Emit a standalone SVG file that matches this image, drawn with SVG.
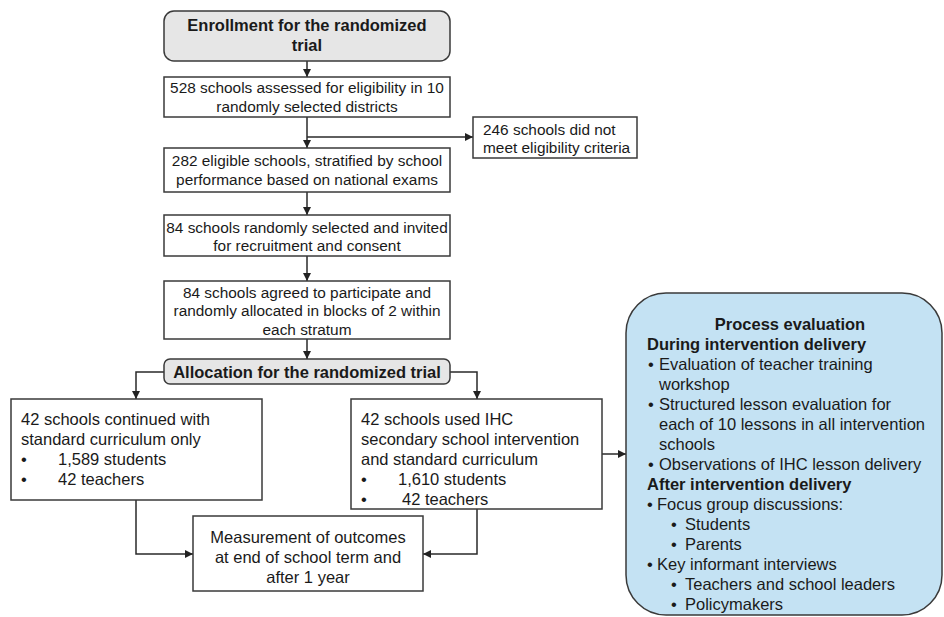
<svg xmlns="http://www.w3.org/2000/svg" width="944" height="617" viewBox="0 0 944 617">
<defs>
<marker id="ah" viewBox="0 0 10 10" refX="10" refY="5" markerWidth="8" markerHeight="8" markerUnits="userSpaceOnUse" orient="auto">
<path d="M0,0 L10,5 L0,10 z" fill="#222"/>
</marker>
</defs>
<style>
.box{fill:#fff;stroke:#3a3a3a;stroke-width:1.5}
.hdr{fill:#e6e6e6;stroke:#3a3a3a;stroke-width:1.5}
.pe{fill:#c4e2f3;stroke:#3a3a3a;stroke-width:1.5}
.t{font-family:"Liberation Sans",Arial,sans-serif;font-size:15.4px;fill:#1a1a1a}
.m{font-family:"Liberation Sans",Arial,sans-serif;font-size:16.5px;fill:#1a1a1a}
.b{font-family:"Liberation Sans",Arial,sans-serif;font-size:16.5px;font-weight:bold;fill:#1a1a1a}
.c{text-anchor:middle}
.ln{fill:none;stroke:#2a2a2a;stroke-width:1.5}
</style>
<rect width="944" height="617" fill="#fff"/>

<g id="connectors">
<path class="ln" d="M307,61 V77" marker-end="url(#ah)"/>
<path class="ln" d="M307,117 V148" marker-end="url(#ah)"/>
<path class="ln" d="M307,137 H473" marker-end="url(#ah)"/>
<path class="ln" d="M307,192 V215" marker-end="url(#ah)"/>
<path class="ln" d="M307,256 V281" marker-end="url(#ah)"/>
<path class="ln" d="M307,339 V359" marker-end="url(#ah)"/>
<path class="ln" d="M164,372 H136 V399" marker-end="url(#ah)"/>
<path class="ln" d="M450,372 H477 V399" marker-end="url(#ah)"/>
<path class="ln" d="M136,500 V554 H193" marker-end="url(#ah)"/>
<path class="ln" d="M477,509 V554 H423" marker-end="url(#ah)"/>
<path class="ln" d="M602,454 H626" marker-end="url(#ah)"/>
</g>

<g id="enrollment">
<rect class="hdr" x="164" y="11" width="286" height="50" rx="10"/>
<text class="b c" x="307" y="31">Enrollment for the randomized</text>
<text class="b c" x="307" y="51">trial</text>
</g>

<g id="assessed">
<rect class="box" x="164" y="77" width="286" height="40"/>
<text class="t c" x="307" y="93">528 schools assessed for eligibility in 10</text>
<text class="t c" x="307" y="111.5">randomly selected districts</text>
</g>

<g id="excluded">
<rect class="box" x="473" y="117" width="164" height="41"/>
<text class="t" x="483" y="134.5">246 schools did not</text>
<text class="t" x="483" y="152.5">meet eligibility criteria</text>
</g>

<g id="eligible">
<rect class="box" x="164" y="148" width="286" height="44"/>
<text class="t c" x="307" y="166">282 eligible schools, stratified by school</text>
<text class="t c" x="307" y="184.5">performance based on national exams</text>
</g>

<g id="selected">
<rect class="box" x="164" y="215" width="286" height="41"/>
<text class="t c" x="307" y="232.5">84 schools randomly selected and invited</text>
<text class="t c" x="307" y="251">for recruitment and consent</text>
</g>

<g id="agreed">
<rect class="box" x="164" y="281" width="286" height="58"/>
<text class="t c" x="307" y="297.5">84 schools agreed to participate and</text>
<text class="t c" x="307" y="316">randomly allocated in blocks of 2 within</text>
<text class="t c" x="307" y="334.5">each stratum</text>
</g>

<g id="allocation">
<rect class="hdr" x="164" y="359" width="286" height="25" rx="6"/>
<text class="b c" x="307" y="378">Allocation for the randomized trial</text>
</g>

<g id="control">
<rect class="box" x="11" y="399" width="251" height="101"/>
<text class="m" x="21" y="425">42 schools continued with</text>
<text class="m" x="21" y="445">standard curriculum only</text>
<text class="m" x="21" y="465">•</text>
<text class="m" x="58" y="465">1,589 students</text>
<text class="m" x="21" y="485">•</text>
<text class="m" x="58" y="485">42 teachers</text>
</g>

<g id="intervention">
<rect class="box" x="351" y="399" width="251" height="110"/>
<text class="m" x="361" y="425">42 schools used IHC</text>
<text class="m" x="361" y="445">secondary school intervention</text>
<text class="m" x="361" y="465">and standard curriculum</text>
<text class="m" x="361" y="485">•</text>
<text class="m" x="398" y="485">1,610 students</text>
<text class="m" x="361" y="505">•</text>
<text class="m" x="402" y="505">42 teachers</text>
</g>

<g id="outcomes">
<rect class="box" x="193" y="516" width="230" height="75"/>
<text class="m c" x="308" y="543">Measurement of outcomes</text>
<text class="m c" x="308" y="563">at end of school term and</text>
<text class="m c" x="308" y="583">after 1 year</text>
</g>

<g id="process">
<rect class="pe" x="626" y="293" width="316" height="322" rx="40"/>
<text class="b c" x="790" y="330">Process evaluation</text>
<text class="b" x="647" y="350">During intervention delivery</text>
<text class="m" x="648" y="370">•</text>
<text class="m" x="659" y="370">Evaluation of teacher training</text>
<text class="m" x="659" y="390">workshop</text>
<text class="m" x="648" y="410">•</text>
<text class="m" x="659" y="410">Structured lesson evaluation for</text>
<text class="m" x="659" y="430">each of 10 lessons in all intervention</text>
<text class="m" x="659" y="450">schools</text>
<text class="m" x="648" y="470">•</text>
<text class="m" x="659" y="470">Observations of IHC lesson delivery</text>
<text class="b" x="647" y="490">After intervention delivery</text>
<text class="m" x="647" y="510">•</text>
<text class="m" x="657" y="510">Focus group discussions:</text>
<text class="m" x="671" y="530">•</text>
<text class="m" x="685" y="530">Students</text>
<text class="m" x="671" y="550">•</text>
<text class="m" x="685" y="550">Parents</text>
<text class="m" x="647" y="570">•</text>
<text class="m" x="657" y="570">Key informant interviews</text>
<text class="m" x="671" y="590">•</text>
<text class="m" x="685" y="590">Teachers and school leaders</text>
<text class="m" x="671" y="610">•</text>
<text class="m" x="685" y="610">Policymakers</text>
</g>
</svg>
